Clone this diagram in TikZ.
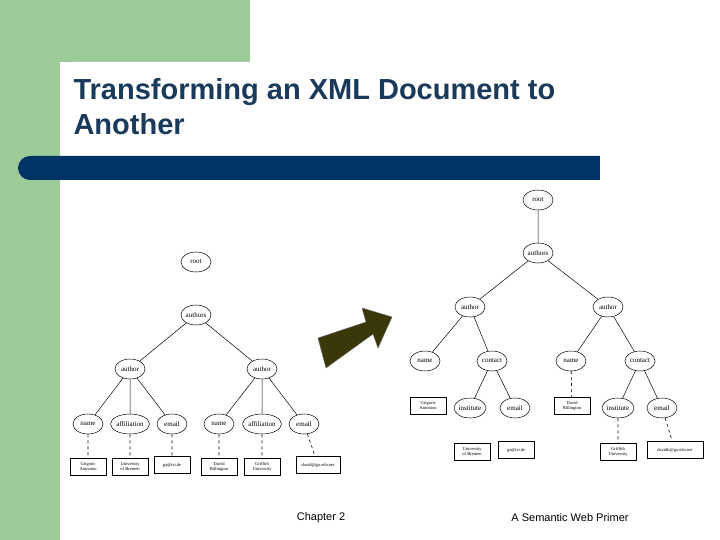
\documentclass[tikz,border=0pt]{standalone}
\usepackage{fontspec}
\setmainfont{Liberation Serif}
\setsansfont{Liberation Sans}
\usetikzlibrary{shapes.geometric}
\definecolor{gr}{HTML}{9DCB98}
\definecolor{navy}{HTML}{003366}
\definecolor{tcol}{HTML}{1A3A5C}
\definecolor{olive}{HTML}{3A3808}
\tikzset{
 el/.style={ellipse,draw,line width=0.5pt,minimum width=30pt,minimum height=20pt,inner sep=0pt,font=\fontsize{7}{8}\selectfont},
 bx/.style={rectangle,draw,line width=0.4pt,minimum width=36pt,minimum height=17pt,inner sep=1pt,align=center,font=\fontsize{4.5}{5}\selectfont},
 ed/.style={line width=0.5pt},
 dd/.style={line width=0.6pt,dashed}
}
\begin{document}
\begin{tikzpicture}[x=1pt,y=-1pt]
\useasboundingbox (0,0) rectangle (720,540);
\fill[white] (0,0) rectangle (720,540);
\fill[gr] (0,0) rectangle (60,540);
\fill[gr] (0,0) rectangle (250,62);
\fill[white,rounded corners=14pt] (60,62) rectangle (740,560);
\fill[navy,rounded corners=12pt] (18,156) rectangle (620,180);
\fill[navy] (560,156) rectangle (600,180);
\fill[white] (600,150) rectangle (720,185);
\node[anchor=west,font=\sffamily\bfseries\fontsize{29}{35}\selectfont,text=tcol,align=left] (title) at (70,107) {Transforming an XML Document to\\Another};
\node[font=\sffamily\fontsize{11}{13}\selectfont] (ch) at (321,518) {Chapter 2};
\node[font=\sffamily\fontsize{11}{13}\selectfont] (pr) at (570,518) {A Semantic Web Primer};
% arrow
\fill[olive,draw=black!60,line width=0.4pt] (326,368) -- (318,338) -- (366,322) -- (362,308) -- (392,317) -- (378,348) -- (373,334) -- cycle;
% left tree
\node[el] (r) at (196,262) {root};
\node[el] (as) at (196,315) {authors};
\node[el] (a1) at (130,369) {author};
\node[el] (a2) at (262,369) {author};
\node[el] (n1) at (88,424) {name};
\node[el] (f1) at (130,424) {affiliation};
\node[el] (e1) at (172,424) {email};
\node[el] (n2) at (219,424) {name};
\node[el] (f2) at (262,424) {affiliation};
\node[el] (e2) at (304,424) {email};
\node[bx] (b1) at (88,467) {Grigoris\\Antoniou};
\node[bx] (b2) at (130,467) {University\\of Bremen};
\node[bx] (b3) at (172,465) {ga@tzi.de};
\node[bx] (b4) at (219,467) {David\\Billington};
\node[bx] (b5) at (262,467) {Griffith\\University};
\node[bx,minimum width=44pt] (b6) at (318,465) {david@gu.edu.net};
\draw[ed] (as)--(a1) (as)--(a2) (a1)--(n1) (a1)--(f1) (a1)--(e1) (a2)--(n2) (a2)--(f2) (a2)--(e2);
\draw[dd] (n1)--(b1) (f1)--(b2) (e1)--(b3) (n2)--(b4) (f2)--(b5) (e2)--(b6);
% right tree
\node[el] (R) at (538,200) {root};
\node[el] (AS) at (538,253) {authors};
\node[el] (A1) at (470,307) {author};
\node[el] (A2) at (608,307) {author};
\node[el] (N1) at (425,361) {name};
\node[el] (C1) at (492,361) {contact};
\node[el] (N2) at (571,361) {name};
\node[el] (C2) at (640,361) {contact};
\node[bx] (B1) at (428,406) {Grigoris\\Antoniou};
\node[el] (I1) at (470,408) {institute};
\node[el] (E1) at (515,408) {email};
\node[bx] (B2) at (572,406) {David\\Billington};
\node[el] (I2) at (618,408) {institute};
\node[el] (E2) at (662,408) {email};
\node[bx] (B3) at (472,452) {University\\of Bremen};
\node[bx] (B4) at (516,450) {ga@tzi.de};
\node[bx] (B5) at (618,452) {Griffith\\University};
\node[bx,minimum width=56pt] (B6) at (675,450) {davidb@gu.edu.net};
\draw[ed] (R)--(AS) (AS)--(A1) (AS)--(A2) (A1)--(N1) (A1)--(C1) (A2)--(N2) (A2)--(C2) (C1)--(I1) (C1)--(E1) (C2)--(I2) (C2)--(E2);
\draw[dd] (N2)--(B2) (I2)--(B5) (E2)--(B6);
\end{tikzpicture}
\end{document}
